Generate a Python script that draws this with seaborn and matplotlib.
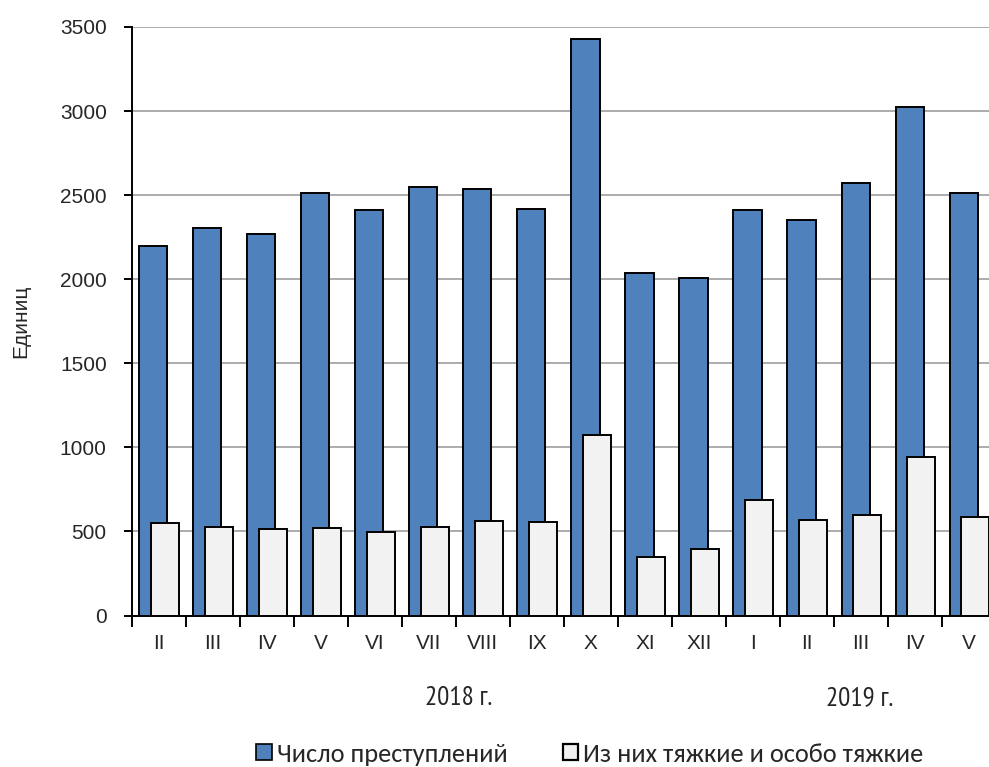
import numpy as np
import pandas as pd
import matplotlib
matplotlib.use("Agg")
import matplotlib.pyplot as plt
import seaborn as sns
from matplotlib.patches import Patch

# ============================================
# DADOS
# ============================================

meses = ["II", "III", "IV", "V", "VI", "VII", "VIII", "IX", "X", "XI", "XII",
         "I", "II", "III", "IV", "V"]
total = [2200, 2305, 2270, 2510, 2410, 2550, 2535, 2415, 3430, 2035, 2005,
         2410, 2355, 2570, 3025, 2515]
tyazhkie = [550, 525, 515, 520, 495, 525, 560, 555, 1075, 350, 395,
            685, 570, 600, 945, 585]
anos = ["2018 г.", "2019 г."]
legenda = ["Число преступлений", "Из них тяжкие и особо тяжкие"]

AZUL = "#4F81BD"
CINZA = "#F2F2F2"
CALIBRI = ["Carlito", "DejaVu Sans"]
NARROW = ["PT Sans Narrow", "Carlito", "DejaVu Sans"]

sns.set_style("white")
plt.rcParams["font.family"] = ["Liberation Sans", "DejaVu Sans"]

pos = np.arange(len(meses))
df = pd.DataFrame({"pos": pos, "total": total, "tyazhkie": tyazhkie})

fig = plt.figure(figsize=(9.89, 7.67), dpi=100)
ax = fig.add_axes([131.7 / 989, (767 - 615.5) / 767, (996 - 131.7) / 989, (615.5 - 27) / 767])

sns.barplot(x=df["pos"] - 0.1, y=df["total"], native_scale=True, width=0.52,
            color=AZUL, saturation=1, edgecolor="black", linewidth=1.4, ax=ax, zorder=2)
sns.barplot(x=df["pos"] + 0.11, y=df["tyazhkie"], native_scale=True, width=0.52,
            color=CINZA, saturation=1, edgecolor="black", linewidth=1.4, ax=ax, zorder=3)

ax.set_xlim(-0.5, len(meses) - 0.5)
ax.set_ylim(0, 3500)
ax.set_yticks(np.arange(0, 3501, 500))
ax.yaxis.grid(True, color="#A6A6A6", linewidth=1.3, zorder=0)
ax.set_axisbelow(True)

ax.set_xticks(pos)
ax.set_xticklabels(meses)
ax.set_xticks(np.arange(-0.5, len(meses), 1), minor=True)
ax.tick_params(axis="x", which="both", bottom=True)
ax.tick_params(axis="x", which="major", length=0, pad=13, labelsize=15)
ax.tick_params(axis="x", which="minor", length=8, width=1.4, direction="out", color="black")
ax.tick_params(axis="y", left=True, length=6, width=1.4, direction="out", color="black",
               labelsize=15, pad=12)
ax.set_xlabel("")
ax.set_ylabel("Единиц", fontsize=15, labelpad=21)

for lado in ["top", "right"]:
    ax.spines[lado].set_visible(False)
for lado in ["left", "bottom"]:
    ax.spines[lado].set_color("black")
    ax.spines[lado].set_linewidth(1.4)

# anos abaixo dos meses
ax.text(5.56, -0.140, anos[0], transform=ax.get_xaxis_transform(), ha="center", va="center",
        fontsize=19.5, family=NARROW)
ax.text(12.97, -0.140, anos[1], transform=ax.get_xaxis_transform(), ha="center", va="center",
        fontsize=19.5, family=NARROW)

handles = [Patch(facecolor=AZUL, edgecolor="black", linewidth=1.2),
           Patch(facecolor=CINZA, edgecolor="black", linewidth=1.6)]
fig.legend(handles, legenda, loc="center", bbox_to_anchor=(590 / 989, 1 - 754 / 767),
           ncol=2, frameon=False, handlelength=0.57, handleheight=0.57, handletextpad=0.2,
           columnspacing=2.1, prop={"family": CALIBRI, "size": 19})

fig.savefig("out.png", dpi=100)
